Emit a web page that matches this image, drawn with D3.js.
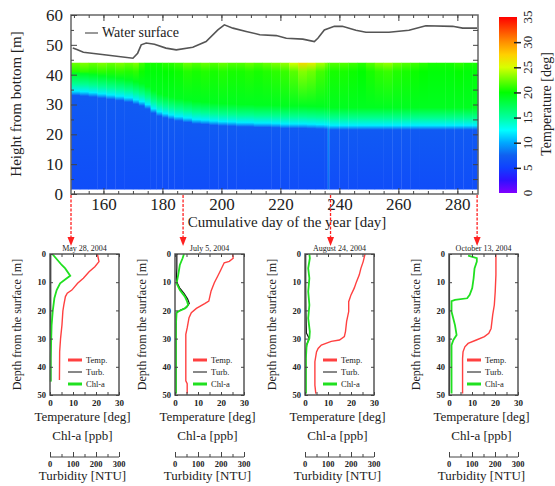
<!DOCTYPE html>
<html>
<head>
<meta charset="utf-8">
<script src="https://cdn.jsdelivr.net/npm/d3@7"></script>
<style>
  body { margin: 0; background: #fff; }
  svg text { font-family: "Liberation Serif", "Times New Roman", serif; fill: #222; }
</style>
</head>
<body>
<div id="chart-area"></div>
<script>
// ---- data ----
// water surface height [m] by day of year
const surfDays = [149.6, 151, 153.2, 161, 170, 171.6, 172.8, 174.5, 177.3, 181.2, 184.7, 190.3, 194.8, 198.8, 201, 203.9, 208.4, 213, 218.6, 222, 227.6, 231.5, 232.7, 234.9, 238.3, 241, 245.6, 249, 256.8, 263.6, 269.3, 278.4, 281.8, 286.7];
const surfHeight = [48.9, 48.4, 47.5, 46.6, 45.5, 47.2, 50, 50.6, 50.2, 48.9, 48.3, 49.2, 51.1, 55, 56.7, 55.6, 54.5, 53.4, 53.1, 52.2, 51.9, 51.1, 52.2, 55, 56.2, 56.2, 54.9, 54.2, 54.2, 54.9, 56.4, 56.2, 55.6, 55.6];

// temperature section: column start day, thermocline height [m], surface temp, bottom-layer temp
const hmDays = [149, 152, 155, 158, 161, 164, 167, 170, 172, 174, 176, 178, 180, 182, 184, 187, 190, 193, 196, 199, 202, 205, 208, 211, 214, 217, 220, 223, 226, 229, 232, 235, 236, 236.6, 240, 243, 246, 249, 252, 255, 258, 261, 264, 267, 270, 273, 276, 279, 282, 285];
const hmThermo = [34.5, 34.3, 34, 33.6, 33.2, 32.8, 32.3, 31.6, 31, 30, 28.6, 27.6, 27, 26.5, 26, 25.5, 25, 24.8, 24.5, 24.3, 24.2, 24, 24, 23.8, 23.8, 23.7, 23.5, 23.5, 23.5, 23.4, 23.3, 23.2, 23.2, 23, 23, 23, 23, 23, 23, 23, 23, 23, 23, 23, 23, 23, 23, 23, 23, 23];
const hmSurface = [22.5, 23, 22.5, 23, 22.5, 23, 22.5, 23, 21.5, 20.5, 20.5, 20.5, 21, 21, 21.5, 22.5, 22, 22.5, 22, 22.5, 22, 22, 22.5, 22, 22.5, 23, 23.5, 25, 27, 26, 24, 23, 22, 22, 22, 21.5, 21, 22, 23, 23.5, 22.5, 22, 21.5, 21, 20.5, 20.5, 20.5, 21, 20.5, 20.5];
const hmBottomT = [6, 6, 6, 6, 6, 6, 6, 6, 6, 6, 6, 6, 6, 6, 6, 6, 6, 6, 6, 6, 6, 6, 6, 6, 6, 6, 6, 6, 6, 6, 6, 6, 8, 6, 6, 6, 6, 6, 6, 6, 6, 6, 6, 6, 6, 6, 6, 6, 6, 6];

const profileDays = [149, 187, 237, 286.7];
const profileTitles = ["May 28, 2004", "July 5, 2004", "August 24, 2004", "October 13, 2004"];

// profiles: [depth m, value]
const tempProfiles = [
  [[0, 20.6], [2.7, 21.3], [4.5, 19.5], [6.3, 17], [8.6, 14.5], [10.4, 12], [12.8, 9.5], [13.9, 7.5], [15.1, 6.7], [18.1, 6], [20.2, 5.6], [25.2, 5.2], [29.9, 4.6], [34.6, 4.2], [44.7, 4.1]],
  [[0, 25], [1.5, 25.3], [2.6, 23.6], [3.1, 21.4], [5.5, 20], [7.8, 18.6], [10.2, 17.1], [13.1, 15.7], [16.7, 14.7], [17.6, 12.9], [19.3, 9.3], [20.8, 7.1], [22.6, 6.1], [26.2, 5.3], [28.5, 4.7], [45, 4.7], [46, 5.3], [49.5, 5.3]],
  [[0, 26.1], [2.7, 25.3], [5.1, 24.3], [7.4, 23.6], [9.8, 22.4], [12.1, 21.4], [14.5, 20], [16.9, 19], [20.4, 19], [23.9, 18.1], [27.5, 17.6], [29.3, 17.1], [30.5, 15], [31, 11.4], [32.3, 7.1], [33.5, 5.7], [34.7, 5], [38.2, 4.3], [46.5, 4.3], [49.5, 4.7]],
  [[0, 20.4], [7.4, 20.4], [13.3, 20.1], [18.1, 19.7], [21.6, 19], [26.4, 18.3], [28.1, 17.3], [29.3, 15.4], [30.5, 11.9], [31.7, 8.3], [32.9, 6.9], [34.7, 6.1], [37, 5.9], [49.5, 5.9]]
];
const chlProfiles = [
  [[0, 1], [3.9, 5.1], [5.1, 6.6], [7.7, 8.8], [8.6, 7.3], [10.4, 4.4], [12.8, 2.9], [15.7, 1.9], [20.2, 1.2], [25.2, 0.7], [37, 0.3], [45.3, 0.3]],
  [[0, 3.9], [1.5, 3.3], [3.9, 2.1], [7.4, 1.4], [10.4, 0.7], [12.8, 2.1], [15.1, 4.3], [16.9, 5.3], [18.1, 5.7], [19.3, 4.3], [20.2, 1.9], [20.7, 0.7], [25.2, 0.4], [49.5, 0.4]],
  [[0, 1.9], [1.5, 2.1], [5.1, 1.4], [8.6, 1.9], [13.3, 1.4], [18.1, 1.9], [22.8, 1.4], [27.5, 2.1], [29.9, 1.9], [32.3, 0.7], [37, 0.4], [49.5, 0.4]],
  [[0.6, 8.3], [1.5, 12.1], [2.7, 12.1], [5.1, 11.1], [8.6, 10.7], [12.1, 10.1], [14.5, 9], [15.7, 7.9], [16.3, 2.6], [16.7, 1.1], [20.4, 1.1], [25.2, 2.6], [28.7, 3.3], [30.5, 1.9], [32.3, 1.1], [49.5, 1.1]]
];
const turbProfiles = [
  [[0, 3], [10, 3], [20, 3], [30, 3], [45, 3]],
  [[0, 8], [5, 8], [9, 6], [10, 8], [12, 20], [14, 40], [16, 55], [17.5, 62], [19, 50], [20, 20], [21, 5], [30, 4], [49.5, 4]],
  [[0, 3], [10, 3], [20, 4], [28, 6], [30, 18], [32, 8], [35, 3], [49.5, 3]],
  [[0, 2], [15, 2], [25, 3], [35, 3], [49.5, 2]]
];

const mainXTicks = [160, 180, 200, 220, 240, 260, 280];
const mainYTicks = [0, 10, 20, 30, 40, 50, 60];
const cbarTicks = [0, 5, 10, 15, 20, 25, 30, 35];
const depthTicks = [0, 10, 20, 30, 40, 50];
const tempTicks = [0, 10, 20, 30];
const turbTicks = [0, 100, 200, 300];
const legendNames = ["Temp.", "Turb.", "Chl-a"];

// ---- layout ----
const FONT = "'Liberation Serif', 'Times New Roman', serif";
const canvas_dims = { width: 555, height: 486 };
const plot = { left: 71, right: 478, top: 15, bottom: 194 };
const panelLeft = [50, 175, 305, 449];
const panelW = 69;
const panelTop = 254, panelBottom = 395;

const svg = d3.select("#chart-area")
  .append("svg")
  .attr("width", canvas_dims.width)
  .attr("height", canvas_dims.height)
  .style("font-family", FONT);

const x = d3.scaleLinear().domain([149, 287]).range([plot.left, plot.right]);
const y = d3.scaleLinear().domain([0, 60]).range([plot.bottom, plot.top]);

const color = d3.scaleLinear()
  .domain([0, 2.5, 5, 7.5, 10, 12.5, 15, 20, 25, 27.5, 30, 35])
  .range(["#8000ff", "#3010ff", "#1040ff", "#1060f0", "#00a8ff", "#00ffff", "#00ffa0", "#00ff00", "#d8ff00", "#ffd000", "#ff9000", "#ff0000"])
  .clamp(true);

const defs = svg.append("defs");

// ---- temperature section ----
const hmBottomH = 1.5, hmTopH = 44;
hmDays.forEach((d, i) => {
  const th = hmThermo[i];
  const stops = [
    [hmBottomH, hmBottomT[i]],
    [th - 1.5, hmBottomT[i] + 1],
    [th, 12],
    [th + 2.5, 15.5],
    [th + 6, 19],
    [hmTopH - 3, (19 + hmSurface[i]) / 2],
    [hmTopH, hmSurface[i]]
  ];
  const grad = defs.append("linearGradient")
    .attr("id", "col" + i)
    .attr("x1", 0).attr("y1", 1).attr("x2", 0).attr("y2", 0);
  grad.selectAll("stop").data(stops).enter().append("stop")
    .attr("offset", s => Math.max(0, Math.min(1, (s[0] - hmBottomH) / (hmTopH - hmBottomH))))
    .attr("stop-color", s => color(s[1]));
  const d2 = i < hmDays.length - 1 ? hmDays[i + 1] : 287;
  svg.append("rect")
    .attr("x", x(d))
    .attr("y", y(hmTopH))
    .attr("width", x(d2) - x(d) + 0.3)
    .attr("height", y(hmBottomH) - y(hmTopH))
    .attr("fill", `url(#col${i})`);
});

// water surface line
svg.append("path")
  .datum(surfDays.map((d, i) => [d, surfHeight[i]]))
  .attr("fill", "none")
  .attr("stroke", "#555")
  .attr("stroke-width", 1.6)
  .attr("d", d3.line().x(d => x(d[0])).y(d => y(d[1])));

// legend for water surface
svg.append("line")
  .attr("x1", 85).attr("x2", 98).attr("y1", 33).attr("y2", 33)
  .attr("stroke", "#555").attr("stroke-width", 1.2);
svg.append("text")
  .attr("x", 102).attr("y", 37)
  .attr("font-size", "14px")
  .text("Water surface");

// frame
svg.append("rect")
  .attr("x", plot.left).attr("y", plot.top)
  .attr("width", plot.right - plot.left).attr("height", plot.bottom - plot.top)
  .attr("fill", "none").attr("stroke", "#666").attr("stroke-width", 1.5);

// axes with inward ticks
function styleAxis(g) {
  g.attr("font-family", null).style("font-family", FONT);
  g.select(".domain").remove();
  g.selectAll(".tick line").attr("stroke", "#444");
}
const minorDays = d3.range(150, 287, 5);
svg.append("g").attr("transform", `translate(0,${plot.bottom})`)
  .call(d3.axisBottom(x).tickValues(minorDays).tickSize(-3).tickFormat(""))
  .call(styleAxis);
svg.append("g").attr("transform", `translate(0,${plot.bottom})`)
  .call(d3.axisBottom(x).tickValues(mainXTicks).tickSize(-6).tickPadding(4).tickFormat(d3.format("d")))
  .call(styleAxis)
  .call(g => g.selectAll("text").attr("font-size", "17px").attr("fill", "#333"));
svg.append("g").attr("transform", `translate(0,${plot.top})`)
  .call(d3.axisTop(x).tickValues(minorDays).tickSize(-3).tickFormat(""))
  .call(styleAxis);
svg.append("g").attr("transform", `translate(0,${plot.top})`)
  .call(d3.axisTop(x).tickValues(mainXTicks).tickSize(-6).tickFormat(""))
  .call(styleAxis);
svg.append("g").attr("transform", `translate(${plot.left},0)`)
  .call(d3.axisLeft(y).tickValues(d3.range(5, 60, 10)).tickSize(-3).tickFormat(""))
  .call(styleAxis);
svg.append("g").attr("transform", `translate(${plot.left},0)`)
  .call(d3.axisLeft(y).tickValues(mainYTicks).tickSize(-6).tickPadding(8))
  .call(styleAxis)
  .call(g => g.selectAll("text").attr("font-size", "17px").attr("fill", "#333"));
svg.append("g").attr("transform", `translate(${plot.right},0)`)
  .call(d3.axisRight(y).tickValues(d3.range(5, 60, 5)).tickSize(-5).tickFormat(""))
  .call(styleAxis);

svg.append("text")
  .attr("x", 287).attr("y", 227)
  .attr("text-anchor", "middle")
  .attr("font-size", "15px")
  .text("Cumulative day of the year [day]");
svg.append("text")
  .attr("transform", `translate(21,104) rotate(-90)`)
  .attr("text-anchor", "middle")
  .attr("font-size", "15px")
  .text("Height from bottom [m]");

// ---- colour bar ----
const cb = { x: 499, w: 18, top: 17, bottom: 193 };
const cy = d3.scaleLinear().domain([0, 35]).range([cb.bottom, cb.top]);
const cgrad = defs.append("linearGradient").attr("id", "cbar")
  .attr("x1", 0).attr("y1", 1).attr("x2", 0).attr("y2", 0);
cgrad.selectAll("stop").data(color.domain()).enter().append("stop")
  .attr("offset", d => d / 35)
  .attr("stop-color", d => color(d));
svg.append("rect")
  .attr("x", cb.x).attr("y", cb.top).attr("width", cb.w).attr("height", cb.bottom - cb.top)
  .attr("fill", "url(#cbar)");
svg.append("g").attr("transform", `translate(${cb.x + cb.w + 4},0)`)
  .call(d3.axisRight(cy).tickValues(cbarTicks.slice(1, -1)).tickSize(-7).tickFormat(""))
  .call(styleAxis)
  .call(g => g.selectAll(".tick line").attr("stroke", "#222").attr("stroke-width", 1.5));
svg.selectAll(".cbar-label").data(cbarTicks).enter().append("text")
  .attr("class", "cbar-label")
  .attr("transform", d => `translate(532,${cy(d)}) rotate(-90)`)
  .attr("text-anchor", "middle")
  .attr("font-size", "13px")
  .text(d => d);
svg.append("text")
  .attr("transform", "translate(551,104) rotate(-90)")
  .attr("text-anchor", "middle")
  .attr("font-size", "14px")
  .text("Temperature [deg]");

// ---- arrows to profiles ----
profileDays.forEach(d => {
  const ax = x(d);
  svg.append("line")
    .attr("x1", ax).attr("x2", ax).attr("y1", plot.bottom + 1).attr("y2", 238)
    .attr("stroke", "#ff2020").attr("stroke-width", 1.3)
    .attr("stroke-dasharray", "3,1.5");
  svg.append("path")
    .attr("d", `M${ax - 3.5},237 L${ax + 3.5},237 L${ax},246 Z`)
    .attr("fill", "#ff2020");
});

// ---- profile panels ----
const yP = d3.scaleLinear().domain([0, 50]).range([panelTop, panelBottom]);
const profileColors = { temp: "#ff4040", turb: "#111", chl: "#20e020" };

panelLeft.forEach((left, p) => {
  const xP = d3.scaleLinear().domain([0, 30]).range([left, left + panelW]);
  const xT = d3.scaleLinear().domain([0, 300]).range([left, left + panelW]);
  const g = svg.append("g");
  const cx = left + panelW / 2;

  g.append("text")
    .attr("x", cx).attr("y", 251)
    .attr("text-anchor", "middle")
    .attr("font-size", "8px")
    .text(profileTitles[p]);

  const lineP = d3.line().x(d => xP(d[1])).y(d => yP(d[0]));
  const lineT = d3.line().x(d => xT(d[1])).y(d => yP(d[0]));
  g.append("path").datum(tempProfiles[p])
    .attr("fill", "none").attr("stroke", profileColors.temp).attr("stroke-width", 1.4)
    .attr("d", lineP);
  g.append("path").datum(turbProfiles[p])
    .attr("fill", "none").attr("stroke", profileColors.turb).attr("stroke-width", 1.2)
    .attr("d", lineT);
  g.append("path").datum(chlProfiles[p])
    .attr("fill", "none").attr("stroke", profileColors.chl).attr("stroke-width", 1.8)
    .attr("d", lineP);

  // legend
  const lg = [[profileColors.temp, 3], [profileColors.turb, 1], [profileColors.chl, 3]];
  lg.forEach((l, i) => {
    const ly = 360 + i * 12;
    g.append("line")
      .attr("x1", left + 18).attr("x2", left + 32).attr("y1", ly).attr("y2", ly)
      .attr("stroke", l[0]).attr("stroke-width", l[1]);
    g.append("text")
      .attr("x", left + 36).attr("y", ly + 3)
      .attr("font-size", "8.5px")
      .text(legendNames[i]);
  });

  g.append("rect")
    .attr("x", left).attr("y", panelTop)
    .attr("width", panelW).attr("height", panelBottom - panelTop)
    .attr("fill", "none").attr("stroke", "#555").attr("stroke-width", 1.5);

  g.append("g").attr("transform", `translate(${left},0)`)
    .call(d3.axisLeft(yP).tickValues(depthTicks).tickSize(-3).tickPadding(4))
    .call(styleAxis)
    .call(a => a.selectAll("text").attr("font-size", "8.5px").attr("font-weight", "bold").attr("fill", "#333"));
  g.append("g").attr("transform", `translate(${left + panelW},0)`)
    .call(d3.axisRight(yP).tickValues(depthTicks).tickSize(-3).tickFormat(""))
    .call(styleAxis);
  g.append("g").attr("transform", `translate(0,${panelBottom})`)
    .call(d3.axisBottom(xP).tickValues(d3.range(0, 31, 5)).tickSize(-3).tickPadding(5)
      .tickFormat(d => tempTicks.includes(d) ? d : ""))
    .call(styleAxis)
    .call(a => a.selectAll("text").attr("font-size", "9px").attr("font-weight", "bold").attr("fill", "#333"));
  g.append("g").attr("transform", `translate(0,${panelTop})`)
    .call(d3.axisTop(xP).tickValues(d3.range(0, 31, 5)).tickSize(-3).tickFormat(""))
    .call(styleAxis);

  g.append("text")
    .attr("transform", `translate(${left - 29},${(panelTop + panelBottom) / 2}) rotate(-90)`)
    .attr("text-anchor", "middle")
    .attr("font-size", "12px")
    .text("Depth from the surface [m]");

  g.append("text")
    .attr("x", cx - 2).attr("y", 421)
    .attr("text-anchor", "middle").attr("font-size", "13px")
    .text("Temperature [deg]");
  g.append("text")
    .attr("x", cx - 2).attr("y", 440)
    .attr("text-anchor", "middle").attr("font-size", "13px")
    .text("Chl-a [ppb]");

  // turbidity axis
  g.append("line")
    .attr("x1", left).attr("x2", left + panelW).attr("y1", 457).attr("y2", 457)
    .attr("stroke", "#444");
  g.append("g").attr("transform", "translate(0,457)")
    .call(d3.axisTop(xT).tickValues(d3.range(50, 300, 100)).tickSize(3).tickFormat(""))
    .call(styleAxis);
  g.append("g").attr("transform", "translate(0,457)")
    .call(d3.axisTop(xT).tickValues(turbTicks).tickSize(5).tickFormat(""))
    .call(styleAxis);
  g.selectAll(".turb-label").data(turbTicks).enter().append("text")
    .attr("x", d => xT(d)).attr("y", 467)
    .attr("text-anchor", "middle")
    .attr("font-size", "8.5px").attr("font-weight", "bold")
    .text(d => d);
  g.append("text")
    .attr("x", cx - 2).attr("y", 480)
    .attr("text-anchor", "middle").attr("font-size", "13px")
    .text("Turbidity [NTU]");
});
</script>
</body>
</html>
